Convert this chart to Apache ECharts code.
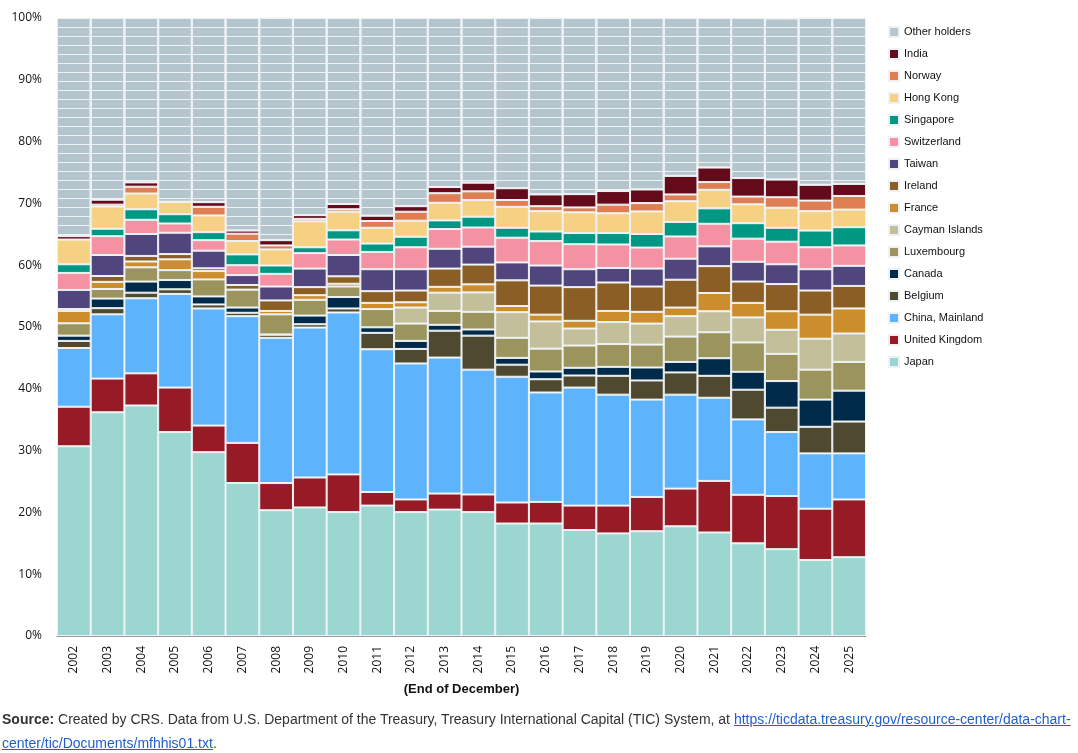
<!DOCTYPE html>
<html>
<head>
<meta charset="utf-8">
<title>Foreign holders of U.S. Treasury securities</title>
<script src="https://cdn.jsdelivr.net/npm/echarts@6/dist/echarts.min.js"></script>
<style>
	html,body{margin:0;padding:0;background:#fff;}
	#chart{position:absolute;left:0;top:0;width:1078px;height:753px;}
	#source{position:absolute;left:2px;top:707px;width:1074px;font-family:"Liberation Sans",Arial,sans-serif;font-size:14px;line-height:24px;color:#333;}
	#source a{color:#1f5fd1;}
</style>
</head>
<body>
<div id="chart"></div>
<div id="source"><b>Source:</b> Created by CRS. Data from U.S. Department of the Treasury, Treasury International Capital (TIC) System, at <a href="#">https://ticdata.treasury.gov/resource-center/data-chart-center/tic/Documents/mfhhis01.txt</a>.</div>
<script>
// years, end of December
var years=['2002','2003','2004','2005','2006','2007','2008','2009','2010','2011','2012','2013',
	'2014','2015','2016','2017','2018','2019','2020','2021','2022','2023','2024','2025'];

// share of foreign holdings, percent
var japan=[30.7,36.2,37.3,33.0,29.75,24.75,20.35,20.8,20.05,21.1,20.05,20.45,20.05,18.2,18.2,17.15,16.6,16.95,17.75,16.75,15.0,14.05,12.3,12.75];
var unitedKingdom=[6.4,5.45,5.2,7.2,4.3,6.5,4.4,4.85,6.1,2.2,2.05,2.6,2.85,3.4,3.5,3.95,4.5,5.55,6.1,8.35,7.85,8.6,8.3,9.35];
var chinaMainland=[9.5,10.4,12.15,15.15,18.95,20.5,23.5,24.25,26.2,23.1,22.0,22.0,20.2,20.35,17.7,19.1,17.95,15.75,15.2,13.45,12.2,10.35,8.95,7.45];
var belgium=[1.15,1.0,0.9,0.75,0.65,0.55,0.5,0.55,0.65,2.65,2.35,4.35,5.5,1.95,2.15,1.95,3.05,3.1,3.6,3.55,4.8,3.95,4.3,5.15];
var canada=[0.85,1.55,1.8,1.5,1.3,0.85,0.05,1.4,1.85,0.9,1.3,0.95,1.0,1.1,1.25,1.25,1.45,2.1,1.7,2.85,2.9,4.3,4.4,5.0];
var luxembourg=[2.0,1.55,2.3,1.6,2.75,2.9,3.25,2.55,1.7,2.95,2.8,2.25,2.85,3.25,3.7,3.6,3.7,3.7,4.1,4.2,4.75,4.4,4.85,4.65];
var caymanIslands=[0,0,0,0,0,0,0,0,0,0,2.6,2.95,3.15,4.15,4.4,2.75,3.55,3.4,3.3,3.4,4.05,3.9,5.0,4.6];
var france=[2.0,1.15,0.95,1.75,1.35,0,0.55,0.75,0.45,1.0,0.85,0.95,1.3,1.0,1.1,1.25,1.8,1.9,1.4,2.95,2.35,3.0,3.9,4.05];
var ireland=[0.3,0.95,0.9,0.85,0.45,0.75,1.7,1.3,1.2,1.9,1.9,2.95,3.2,4.15,4.7,5.45,4.6,4.1,4.5,4.35,3.45,4.4,3.9,3.65];
var taiwan=[3.1,3.4,3.55,3.45,2.85,1.6,2.25,3.0,3.45,3.55,3.45,3.2,2.9,2.9,3.25,2.9,2.35,2.9,3.4,3.2,3.2,3.2,3.45,3.25];
var switzerland=[2.75,3.05,2.3,1.5,1.7,1.6,2.05,2.5,2.5,2.8,3.55,3.2,3.1,4.0,3.95,4.05,3.8,3.4,3.6,3.65,3.75,3.65,3.55,3.3];
var singapore=[1.4,1.2,1.7,1.5,1.3,1.75,1.35,0.95,1.5,1.35,1.7,1.4,1.75,1.6,1.55,1.8,1.85,2.2,2.35,2.5,2.5,2.25,2.7,2.95];
var hongKong=[4.0,3.6,2.55,2.0,2.7,2.15,2.6,4.2,3.0,2.55,2.6,2.85,2.7,3.4,3.3,3.35,3.2,3.65,3.35,3.0,3.05,3.25,3.15,2.85];
var norway=[0,0.3,1.1,0,1.4,1.2,0.65,0.4,0.4,1.1,1.45,1.55,1.4,1.1,0.8,0.8,1.4,1.35,1.1,1.25,1.25,1.7,1.7,2.2];
var india=[0.55,0.8,0.7,0,0.75,0.5,0.85,0.6,0.85,0.85,0.9,1.0,1.4,1.9,1.9,2.15,2.2,2.2,3.0,2.35,3.0,2.85,2.55,1.95];
var otherHolders=[35.3,29.4,26.6,29.75,29.8,34.4,36.0,31.9,30.1,32.0,30.45,27.35,26.65,27.55,28.6,28.5,28.0,27.75,25.55,24.2,25.9,26.1,27.05,26.85];

var names=['Japan','United Kingdom','China, Mainland','Belgium','Canada','Luxembourg','Cayman Islands',
	'France','Ireland','Taiwan','Switzerland','Singapore','Hong Kong','Norway','India','Other holders'];
var values=[japan,unitedKingdom,chinaMainland,belgium,canada,luxembourg,caymanIslands,
	france,ireland,taiwan,switzerland,singapore,hongKong,norway,india,otherHolders];
var colors=['#9bd6d0','#961b26','#5db3fc','#4f4a2f','#002a4a','#9b945d','#c4bf9b',
	'#cc8d2c','#8a5e25','#51457d','#f492a3','#009783','#f6d183','#df7e52','#640b1b','#b4c5ce'];

var myChart=echarts.init(document.getElementById('chart'),null,{renderer:'canvas'});

var series=names.map(function(name,i){
	var s={
		name:name,
		type:'bar',
		stack:'total',
		barCategoryGap:'0%',
		data:values[i],
		itemStyle:{color:colors[i],borderColor:'#eef2f4',borderWidth:1}
	};
	// other holders is made of many small countries: thin white stripes
	if(name==='Other holders'){
		s.itemStyle.decal={
			symbol:'rect',
			symbolSize:1,
			dashArrayX:[[10,0]],
			dashArrayY:[1,8],
			rotation:0,
			color:'rgba(255,255,255,0.75)'
		};
	}
	return s;
});

var option={
	animation:false,
	legend:{
		orient:'vertical',
		left:883,
		top:21,
		itemWidth:10,
		itemHeight:10,
		itemGap:10,
		icon:'rect',
		data:names.slice().reverse(),
		textStyle:{fontFamily:'Liberation Sans, Arial, sans-serif',fontSize:11,color:'#111',lineHeight:12}
	},
	grid:{left:57,right:212,top:18,bottom:117,containLabel:false},
	xAxis:{
		type:'category',
		data:years,
		name:'(End of December)',
		nameLocation:'middle',
		nameGap:47,
		nameTextStyle:{fontFamily:'Liberation Sans Narrow, Liberation Sans, sans-serif',fontWeight:'bold',fontSize:13,color:'#111'},
		axisLine:{lineStyle:{color:'#999',width:1}},
		axisTick:{alignWithLabel:true,length:5,lineStyle:{color:'#555'}},
		axisLabel:{rotate:90,margin:10,fontFamily:'Open Sans, sans-serif',fontSize:12,color:'#111'}
	},
	yAxis:{
		type:'value',
		min:0,
		max:100,
		interval:10,
		axisLine:{show:false},
		axisTick:{show:false},
		splitLine:{show:false},
		axisLabel:{formatter:'{value}%',margin:15,fontFamily:'Open Sans, sans-serif',fontSize:12,color:'#111'}
	},
	series:series
};
myChart.setOption(option);
</script>
</body>
</html>
